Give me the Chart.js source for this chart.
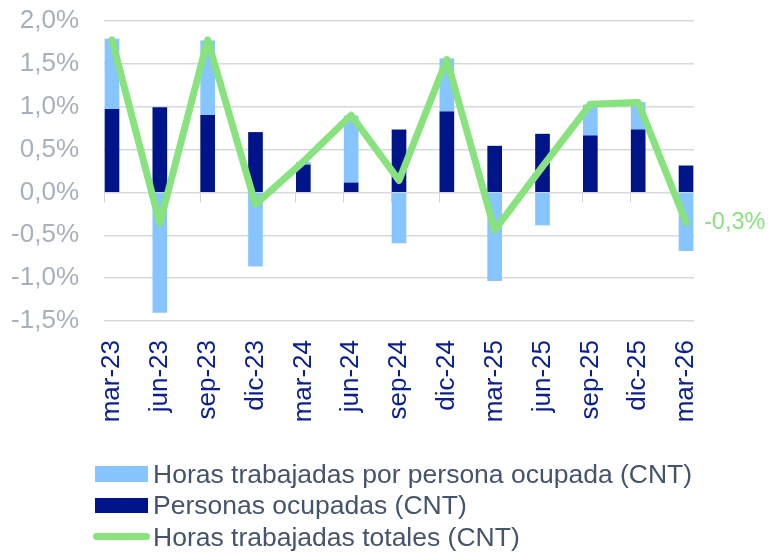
<!DOCTYPE html>
<html lang="es">
<head>
    <meta charset="UTF-8">
    <title>Horas trabajadas (CNT)</title>
    <script src="https://cdn.jsdelivr.net/npm/chart.js"></script>
    <style>
        body {
            margin: 0;
            background: #fff;
        }
        .contenedor {
            position: relative;
            width: 768px;
            height: 553px;
        }
        .leyenda div {
            position: absolute;
        }
        .leyenda .texto {
            left: 153px;
            height: 30px;
            line-height: 30px;
            font-family: "Liberation Sans", Arial, sans-serif;
            font-size: 26.5px;
            color: #44546A;
            white-space: nowrap;
        }
    </style>
</head>
<body>
    <div class="contenedor">
        <canvas id="horasChart" width="768" height="553"></canvas>

        <!-- Leyenda -->
        <div class="leyenda">
            <div style="left:95px; top:466px; width:53px; height:16px; background:#86C5FF;"></div>
            <div class="texto" style="top:459px;">Horas trabajadas por persona ocupada (CNT)</div>
            <div style="left:95px; top:498px; width:53px; height:15px; background:#001489;"></div>
            <div class="texto" style="top:490px;">Personas ocupadas (CNT)</div>
            <div style="left:93px; top:533px; width:57px; height:7px; border-radius:4px; background:#88E27E;"></div>
            <div class="texto" style="top:522px;">Horas trabajadas totales (CNT)</div>
        </div>
    </div>

    <script>
        // Datos (tasas de variación, %)
        const etiquetas = ['mar-23', 'jun-23', 'sep-23', 'dic-23', 'mar-24', 'jun-24', 'sep-24',
                           'dic-24', 'mar-25', 'jun-25', 'sep-25', 'dic-25', 'mar-26'];
        const personasOcupadas = [0.97, 0.99, 0.90, 0.70, 0.32, 0.11, 0.73, 0.94, 0.54, 0.68, 0.66, 0.73, 0.31];
        const horasPorPersona = [0.82, -1.40, 0.87, -0.86, 0.03, 0.78, -0.59, 0.62, -1.03, -0.38, 0.36, 0.32, -0.68];
        const horasTotales = [1.78, -0.36, 1.78, -0.14, 0.36, 0.90, 0.14, 1.55, -0.44, 0.30, 1.03, 1.05, -0.35];
        const ultimoValor = '-0,3%';

        const fuente = '"Liberation Sans", Arial, sans-serif';
        const desfase = 0.167; // Excel deja las barras un poco a la izquierda

        const puntos = arr => arr.map((v, i) => ({ x: i, y: v }));

        // marcas pequeñas bajo la línea del cero y etiqueta del último valor
        const extras = {
            id: 'extras',
            beforeDatasetsDraw(chart) {
                const { ctx, scales: { x, y } } = chart;
                const y0 = y.getPixelForValue(0);
                ctx.save();
                ctx.strokeStyle = '#D0D4DA';
                ctx.lineWidth = 1;
                for (let i = 0; i < etiquetas.length; i++) {
                    const px = Math.round(x.getPixelForValue(i - desfase)) + 0.5;
                    ctx.beginPath();
                    ctx.moveTo(px, y0);
                    ctx.lineTo(px, y0 + 10);
                    ctx.stroke();
                }
                ctx.restore();
            },
            afterDatasetsDraw(chart) {
                const { ctx } = chart;
                const meta = chart.getDatasetMeta(0);
                const pt = meta.data[meta.data.length - 1];
                ctx.save();
                ctx.fillStyle = '#88E27E';
                ctx.font = '23.5px ' + fuente;
                ctx.textAlign = 'left';
                ctx.textBaseline = 'middle';
                ctx.fillText(ultimoValor, pt.x + 18, pt.y);
                ctx.restore();
            }
        };

        const ctx = document.getElementById('horasChart').getContext('2d');
        new Chart(ctx, {
            type: 'bar',
            data: {
                datasets: [{
                    type: 'line',
                    label: 'Horas trabajadas totales (CNT)',
                    data: puntos(horasTotales),
                    stack: 'total',
                    borderColor: '#88E27E',
                    borderWidth: 7,
                    borderCapStyle: 'round',
                    borderJoinStyle: 'round',
                    pointRadius: 0,
                    tension: 0,
                    fill: false
                }, {
                    label: 'Personas ocupadas (CNT)',
                    data: puntos(personasOcupadas),
                    stack: 'barras',
                    backgroundColor: '#001489',
                    barThickness: 14
                }, {
                    label: 'Horas trabajadas por persona ocupada (CNT)',
                    data: puntos(horasPorPersona),
                    stack: 'barras',
                    backgroundColor: '#86C5FF',
                    barThickness: 14
                }]
            },
            options: {
                responsive: false,
                animation: false,
                layout: {
                    padding: { left: 11, top: 21, right: 74, bottom: 131 }
                },
                plugins: {
                    legend: { display: false },
                    tooltip: { enabled: false }
                },
                scales: {
                    x: {
                        type: 'linear',
                        offset: false,
                        min: -desfase,
                        max: etiquetas.length - 1 + desfase,
                        stacked: true,
                        grid: { display: false, offset: false, drawTicks: false },
                        border: { display: false },
                        afterBuildTicks: scale => {
                            scale.ticks = etiquetas.map((_, i) => ({ value: i }));
                        },
                        afterFit: scale => { scale.height = 101; },
                        ticks: {
                            autoSkip: false,
                            minRotation: 90,
                            maxRotation: 90,
                            padding: 19,
                            color: '#0A1F8F',
                            font: { family: fuente, size: 26 },
                            callback: value => etiquetas[value] ?? ''
                        }
                    },
                    y: {
                        min: -1.5,
                        max: 2.0,
                        stacked: true,
                        border: { display: false },
                        grid: {
                            color: '#D6D9DE',
                            lineWidth: 1.5,
                            drawTicks: false
                        },
                        afterFit: scale => {
                            scale.width = 93;
                            scale.paddingTop = 15;
                            scale.paddingBottom = 15;
                        },
                        ticks: {
                            stepSize: 0.5,
                            padding: 25,
                            color: '#A7B0BC',
                            font: { family: fuente, size: 26 },
                            callback: value => value.toFixed(1).replace('.', ',') + '%'
                        }
                    }
                }
            },
            plugins: [extras]
        });
    </script>
</body>
</html>
